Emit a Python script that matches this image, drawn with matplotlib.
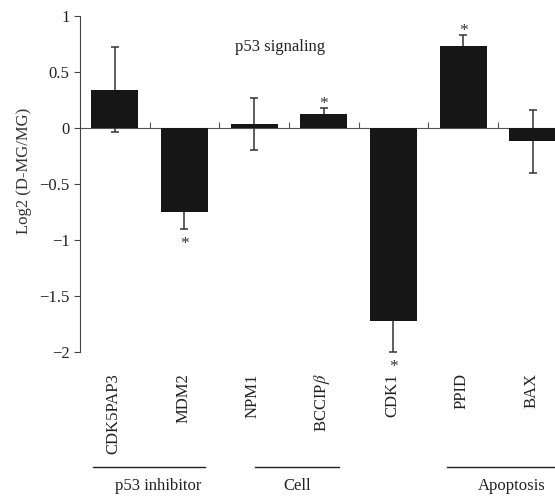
import numpy as np
import matplotlib
matplotlib.use('Agg')
import matplotlib.pyplot as plt
import matplotlib.transforms as mtransforms

plt.rcParams['font.family'] = ['Liberation Serif', 'DejaVu Serif']
plt.rcParams['mathtext.fontset'] = 'stix'

# data
genes = ['CDK5PAP3', 'MDM2', 'NPM1', r'BCCIP$\beta$', 'CDK1', 'PPID', 'BAX']
log2_ratio = [0.34, -0.75, 0.035, 0.125, -1.72, 0.73, -0.12]
err = [0.38, 0.15, 0.23, 0.05, 0.28, 0.10, 0.28]
significant = [False, True, False, True, True, True, False]
groups = ['p53 inhibitor', 'Cell', 'Apoptosis']
group_span = [(-0.31, 1.30), (2.02, 3.22), (4.77, 6.4)]
group_text_x = [0.62, 2.62, 5.70]

fig = plt.figure(figsize=(5.55, 4.98), dpi=100)
ax = fig.add_axes([0.144, 0.293, 0.856, 0.675])

x = np.arange(len(genes))
# error bars under the bars so the inner half is hidden
ax.errorbar(x, log2_ratio, yerr=err, fmt='none', ecolor='#333333',
            elinewidth=1.1, capsize=3, capthick=1.1, zorder=1.5)
ax.bar(x, log2_ratio, width=0.674, color='#161616', zorder=2)

# significance stars just beyond the error bar end
for xi, v, e, s in zip(x, log2_ratio, err, significant):
    if not s:
        continue
    if v >= 0:
        ax.annotate('*', (xi, v + e), xytext=(0, 0), textcoords='offset points',
                    ha='center', va='baseline', fontsize=12.5, color='#333333')
    else:
        ax.annotate('*', (xi, v - e), xytext=(0, -13.5), textcoords='offset points',
                    ha='center', va='baseline', fontsize=12.5, color='#333333',
                    annotation_clip=False)

ax.set_xlim(-0.5, 6.32)
ax.set_ylim(-2, 1)
ax.set_yticks([1, 0.5, 0, -0.5, -1, -1.5, -2])
ax.set_yticklabels(['1', '0.5', '0', '\u22120.5', '\u22121', '\u22121.5', '\u22122'])
ax.set_ylabel('Log2 (D-MG/MG)', fontsize=12, color='#333333')
ax.yaxis.set_label_coords(-0.1, 0.54)

for sp in ['top', 'right']:
    ax.spines[sp].set_visible(False)
ax.spines['bottom'].set_position(('data', 0))
ax.spines['bottom'].set_color('#555555')
ax.spines['left'].set_color('#444444')
ax.spines['bottom'].set_zorder(1)
ax.set_xticks(np.arange(0.5, 6, 1))
ax.set_xticklabels([])
ax.tick_params(axis='x', direction='in', length=4, color='#555555')
ax.tick_params(axis='y', direction='out', length=4, color='#444444',
               labelsize=12, labelcolor='#222222')

ax.text(2.37, 0.72, 'p53 signaling', fontsize=12, ha='center', va='center',
        color='#222222')

trans = mtransforms.blended_transform_factory(ax.transData, ax.transAxes)
for xi, g in zip(x, genes):
    ax.text(xi - 0.02, -0.063, g, rotation=90, ha='center', va='top',
            fontsize=12, color='#222222', transform=trans, clip_on=False)

for (x0, x1), tx, g in zip(group_span, group_text_x, groups):
    ax.plot([x0, x1], [-0.342, -0.342], color='#222222', lw=1,
            transform=trans, clip_on=False)
    ax.text(tx, -0.397, g, ha='center', va='center', fontsize=12,
            color='#222222', transform=trans, clip_on=False)

fig.savefig('out.png', dpi=100)
